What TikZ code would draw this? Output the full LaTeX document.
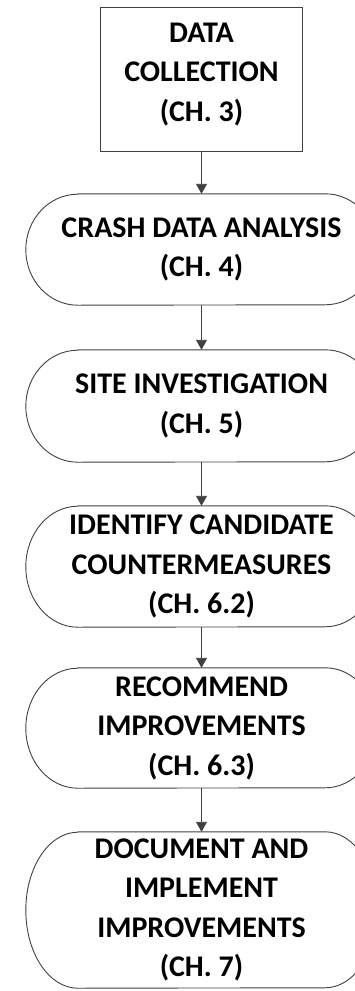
\documentclass[tikz,border=0pt]{standalone}
\usepackage{fontspec}
\setmainfont{Carlito}
\usepackage{tikz}
\usetikzlibrary{arrows.meta, positioning, calc}

% outline of a rounded step (elliptic ends)
\newcommand\termshape[2]{%
  \draw[outline] ([xshift=52pt]#1.north west) -- ([xshift=-52pt]#1.north east)
    arc[start angle=90, end angle=-90, x radius=52pt, y radius=#2pt]
    -- ([xshift=52pt]#1.south west)
    arc[start angle=270, end angle=90, x radius=52pt, y radius=#2pt] -- cycle;}

\begin{document}
\begin{tikzpicture}[x=1pt, y=1pt,
    outline/.style={line width=0.9pt, draw=black!75},
    steptext/.style={inner sep=0pt, align=center, minimum width=351pt,
        font=\fontsize{30}{39.5}\selectfont\bfseries},
    flow/.style={line width=0.9pt, draw=black!75,
        -{Triangle[width=11pt, length=10pt]}}]
    \clip (0, 0) rectangle (355, -991);

    % Start box
    \node[outline, draw, inner sep=0pt, align=center, minimum width=202pt,
          minimum height=144pt, font=\fontsize{30}{39.5}\selectfont\bfseries]
        (collect) at (201.5, -79) {DATA\\COLLECTION\\(CH. 3)\\[-25.5pt]\mbox{}};

    % Steps
    \node[steptext, minimum height=111pt] (crash) at (201.5, -249.5)
        {CRASH DATA ANALYSIS\\(CH. 4)};
    \node[steptext, minimum height=112pt] (site) at (201.5, -406)
        {SITE INVESTIGATION\\(CH. 5)};
    \node[steptext, minimum height=121pt] (counter) at (201.5, -566.5)
        {IDENTIFY CANDIDATE\\COUNTERMEASURES\\(CH. 6.2)};
    \node[steptext, minimum height=120pt] (recommend) at (201.5, -728)
        {RECOMMEND\\IMPROVEMENTS\\(CH. 6.3)};
    \node[steptext, minimum height=156pt] (implement) at (201.5, -910)
        {DOCUMENT AND\\IMPLEMENT\\IMPROVEMENTS\\(CH. 7)};

    % Outlines
    \termshape{crash}{55.5}
    \termshape{site}{56}
    \termshape{counter}{60.5}
    \termshape{recommend}{60}
    \termshape{implement}{78}

    % Arrows
    \foreach \a/\b in {collect/crash, crash/site, site/counter,
                       counter/recommend, recommend/implement}
        \draw[flow] (\a) -- (\b);
\end{tikzpicture}
\end{document}
